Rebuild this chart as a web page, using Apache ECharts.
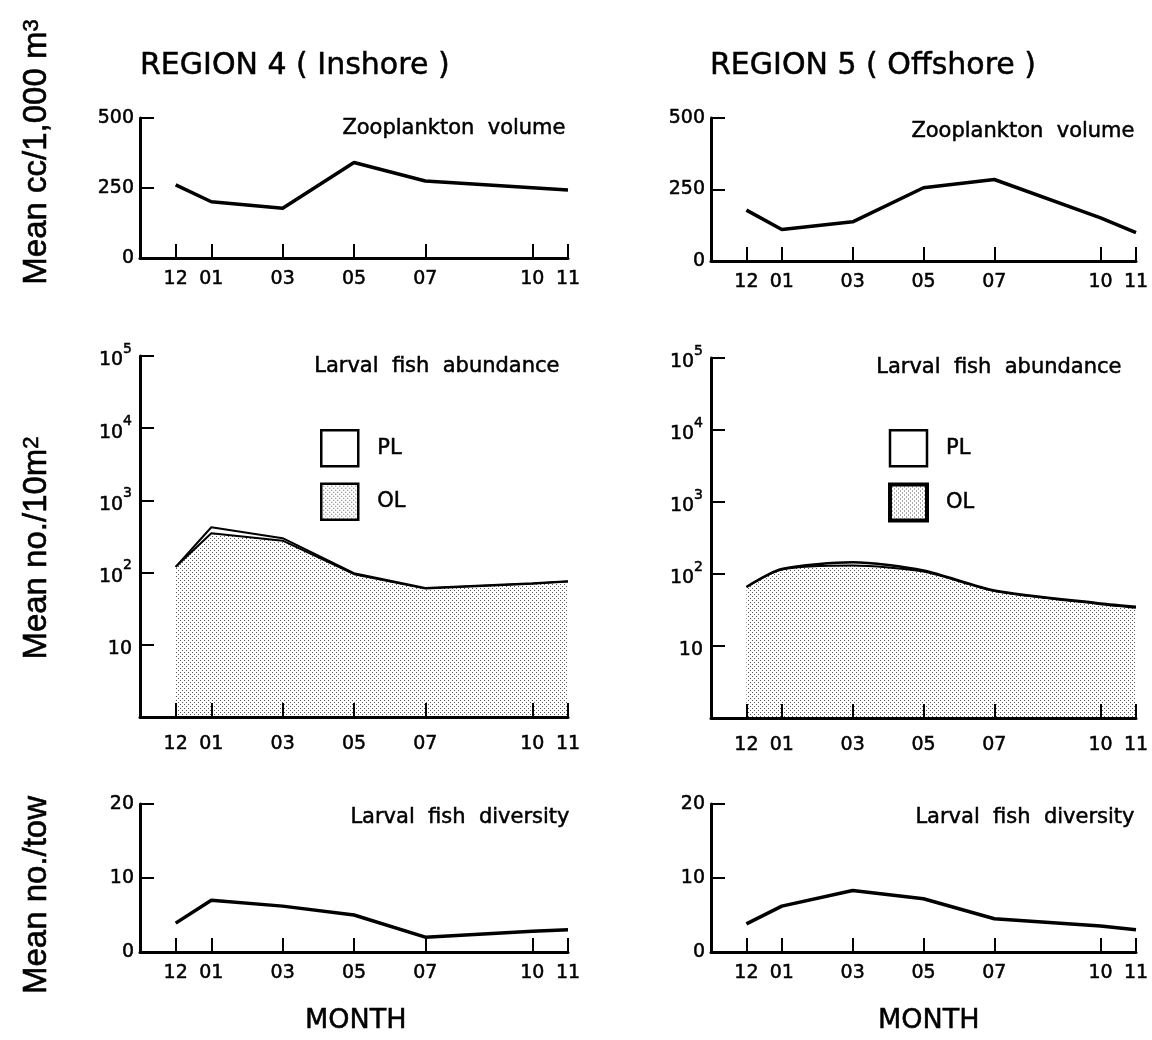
<!DOCTYPE html>
<html>
<head>
<meta charset="utf-8">
<title>Region 4 / Region 5</title>
<script src="https://cdn.jsdelivr.net/npm/echarts@6/dist/echarts.min.js"></script>
<style>
  html, body { margin: 0; padding: 0; background: #fff; }
  #chart { width: 1152px; height: 1040px; }
</style>
</head>
<body>
<div id="chart"></div>
<script>
// 采样月份（12 月起算）
const months = [12, 1, 3, 5, 7, 10, 11];

// Zooplankton volume, mean cc/1,000 m3
const zooInshore = [261, 201, 178, 341, 275, 251, 243];
const zooOffshore = [178, 110, 137, 256, 285, 151, 99];

// Larval fish abundance, mean no./10m2 (OL 底层, PL 叠在上面)
const olInshore = [120, 350, 277, 95, 60, 70, 75];
const plInshore = [0, 75, 23, 3, 1, 1, 1];
const olOffshore = [66, 115, 131, 108, 58, 38, 34];
const plOffshore = [0, 2, 15, 4, 1, 1, 1];

// Larval fish diversity, mean no./tow
const divInshore = [3.9, 7.0, 6.2, 5.0, 2.0, 2.8, 3.0];
const divOffshore = [3.8, 6.2, 8.3, 7.2, 4.5, 3.5, 3.0];

const FONT = 'DejaVu Sans';
const INK = '#000';
// 字迹加粗一点，接近原图的手写体
const heavy = {textBorderColor: INK, textBorderWidth: 0.5};

// 横轴位置：从 12 月开始数的月数
const monthPos = months.map(m => (m === 12 ? 0 : m));
const monthLabel = v => {
  const i = monthPos.indexOf(v);
  return i < 0 ? '' : String(months[i]).padStart(2, '0');
};
const toPoints = vals => vals.map((v, i) => [monthPos[i], v]);
const sumOf = (a, b) => a.map((v, i) => v + b[i]);

// 点状填充（OL）
const dots = document.createElement('canvas');
dots.width = 4;
dots.height = 4;
const dctx = dots.getContext('2d');
dctx.fillStyle = '#fff';
dctx.fillRect(0, 0, 4, 4);
dctx.fillStyle = '#555';
dctx.fillRect(0, 0, 1, 1);
dctx.fillRect(2, 2, 1, 1);
const dotFill = {image: dots, repeat: 'repeat'};

const chart = echarts.init(document.getElementById('chart'), null, {renderer: 'canvas'});

const cols = [{left: 140, width: 428}, {left: 711, width: 425}];
const rows = [
  [{top: 118, height: 140}, {top: 118, height: 143}],
  [{top: 356, height: 361}, {top: 358, height: 360}],
  [{top: 804, height: 148}, {top: 804, height: 148}]
];

const grids = [];
const xAxes = [];
const yAxes = [];

const xAxisFor = (gi, margin) => ({
  type: 'value',
  gridIndex: gi,
  min: -1,
  max: 11,
  z: 5, // 轴线画在填充之上
  axisLine: {onZero: false, lineStyle: {color: INK, width: 3}},
  axisTick: {inside: true, length: 14, customValues: monthPos, lineStyle: {color: INK, width: 2}},
  axisLabel: Object.assign({
    customValues: monthPos,
    formatter: monthLabel,
    color: INK,
    fontFamily: FONT,
    fontSize: 19,
    margin: margin
  }, heavy),
  splitLine: {show: false}
});

const yBase = {
  z: 5,
  axisTick: {show: true, inside: true, length: 14, lineStyle: {color: INK, width: 2}},
  splitLine: {show: false}
};
const yLine = {show: true, onZero: false, lineStyle: {color: INK, width: 3}};

for (let r = 0; r < 3; r++) {
  for (let c = 0; c < 2; c++) {
    const gi = grids.length;
    grids.push({left: cols[c].left, width: cols[c].width, top: rows[r][c].top, height: rows[r][c].height});
    xAxes.push(xAxisFor(gi, r === 1 ? 18 : 12));
    if (r === 0) {
      yAxes.push(Object.assign({}, yBase, {
        type: 'value', gridIndex: gi, min: 0, max: 500, interval: 250, axisLine: yLine,
        axisLabel: Object.assign({color: INK, fontFamily: FONT, fontSize: 19, margin: 6}, heavy)
      }));
    } else if (r === 1) {
      yAxes.push(Object.assign({}, yBase, {
        type: 'log', logBase: 10, gridIndex: gi, min: 1, max: 100000, axisLine: yLine,
        axisLabel: {
          color: INK, fontFamily: FONT, fontSize: 19, margin: 8,
          formatter: v => {
            if (v < 5) return '';
            const p = Math.round(Math.log10(v));
            return p === 1 ? '{b|10}' : '{b|10}{s|' + p + '}';
          },
          rich: {
            b: Object.assign({fontFamily: FONT, fontSize: 19, color: INK, padding: [9, 0, 0, 0]}, heavy),
            s: Object.assign({fontFamily: FONT, fontSize: 14, color: INK, verticalAlign: 'top'}, heavy)
          }
        }
      }));
    } else {
      yAxes.push(Object.assign({}, yBase, {
        type: 'value', gridIndex: gi, min: 0, max: 20, interval: 10, axisLine: yLine,
        axisLabel: Object.assign({color: INK, fontFamily: FONT, fontSize: 19, margin: 6}, heavy)
      }));
    }
  }
}

const plainLine = (gi, vals, w) => ({
  type: 'line',
  xAxisIndex: gi,
  yAxisIndex: gi,
  data: toPoints(vals),
  symbol: 'none',
  silent: true,
  lineStyle: {color: INK, width: w || 3.5}
});

const series = [
  plainLine(0, zooInshore),
  plainLine(1, zooOffshore),
  // inshore abundance
  {
    name: 'OL', type: 'line', xAxisIndex: 2, yAxisIndex: 2,
    data: toPoints(olInshore), symbol: 'none',
    lineStyle: {color: INK, width: 2},
    areaStyle: {color: dotFill, origin: 'start', opacity: 1}
  },
  {
    name: 'PL', type: 'line', xAxisIndex: 2, yAxisIndex: 2,
    data: toPoints(sumOf(olInshore, plInshore)), symbol: 'none',
    lineStyle: {color: INK, width: 2}
  },
  // offshore abundance
  {
    name: 'OL', type: 'line', xAxisIndex: 3, yAxisIndex: 3, smooth: 0.25,
    data: toPoints(olOffshore), symbol: 'none',
    lineStyle: {color: INK, width: 2},
    areaStyle: {color: dotFill, origin: 'start', opacity: 1}
  },
  {
    name: 'PL', type: 'line', xAxisIndex: 3, yAxisIndex: 3, smooth: 0.25,
    data: toPoints(sumOf(olOffshore, plOffshore)), symbol: 'none',
    lineStyle: {color: INK, width: 2.5}
  },
  plainLine(4, divInshore),
  plainLine(5, divOffshore)
];

const legendFor = (left, olBorder) => ({
  left: left,
  top: 429,
  orient: 'vertical',
  icon: 'rect',
  itemWidth: 37,
  itemHeight: 36,
  itemGap: 15,
  padding: 0,
  selectedMode: false,
  textStyle: Object.assign({color: INK, fontFamily: FONT, fontSize: 21, padding: [0, 0, 0, 14]}, heavy),
  data: [
    {name: 'PL', itemStyle: {color: '#fff', borderColor: INK, borderWidth: 2.5}},
    {name: 'OL', itemStyle: {color: dotFill, borderColor: INK, borderWidth: olBorder}}
  ]
});

const textTitle = (text, pos, size) => Object.assign({
  text: text,
  padding: 0,
  textStyle: Object.assign({color: INK, fontFamily: FONT, fontSize: size, fontWeight: 'normal'}, heavy)
}, pos);

const yName = (text, y) => ({
  type: 'text', x: 37, y: y, rotation: Math.PI / 2,
  style: {
    text: text, fill: INK, font: '33px "Liberation Sans"',
    stroke: INK, lineWidth: 0.6,
    align: 'center', verticalAlign: 'middle',
    rich: {s: {fontSize: 22, fontFamily: 'Liberation Sans', verticalAlign: 'top', fill: INK}}
  }
});

const option = {
  backgroundColor: '#fff',
  animation: false,
  title: [
    textTitle('REGION 4 ( Inshore )', {left: 140, top: 51}, 30),
    textTitle('REGION 5 ( Offshore )', {left: 710, top: 51}, 30),
    textTitle('Zooplankton  volume', {right: 586, top: 118}, 21),
    textTitle('Zooplankton  volume', {right: 17, top: 121}, 21),
    textTitle('Larval  fish  abundance', {right: 592, top: 356}, 21),
    textTitle('Larval  fish  abundance', {right: 30, top: 357}, 21),
    textTitle('Larval  fish  diversity', {right: 582, top: 807}, 21),
    textTitle('Larval  fish  diversity', {right: 17, top: 807}, 21),
    textTitle('MONTH', {left: 305, top: 1007}, 27),
    textTitle('MONTH', {left: 878, top: 1007}, 27)
  ],
  legend: [legendFor(320, 2.5), legendFor(888, 4)],
  grid: grids,
  xAxis: xAxes,
  yAxis: yAxes,
  series: series,
  graphic: [
    yName('Mean cc/1,000 m{s|3}', 152),
    yName('Mean no./10m{s|2}', 548),
    yName('Mean no./tow', 895)
  ]
};

chart.setOption(option);
window.addEventListener('resize', () => chart.resize());
</script>
</body>
</html>
